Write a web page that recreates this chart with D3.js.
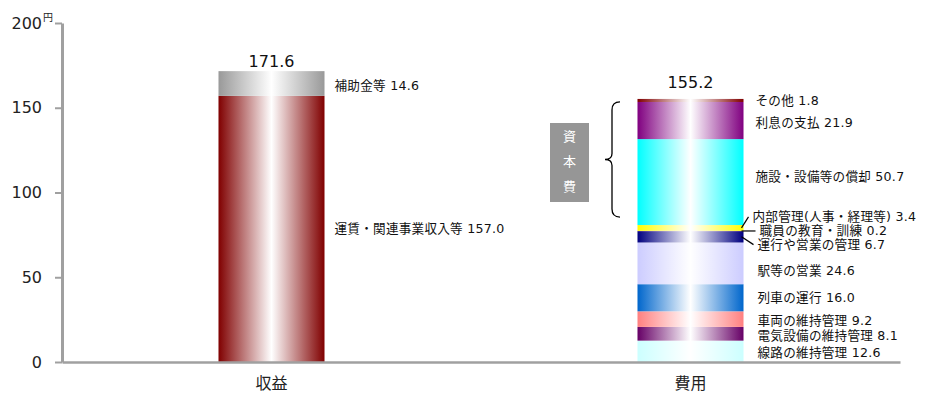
<!DOCTYPE html>
<html lang="ja">
<head>
<meta charset="utf-8">
<script src="https://cdn.jsdelivr.net/npm/d3@7"></script>
<style>
  html, body { margin: 0; padding: 0; background: #fff; }
  svg { display: block; font-family: "DejaVu Sans", "Noto Sans CJK JP", sans-serif; }
</style>
</head>
<body>
<svg id="chart" width="925" height="397"></svg>
<script>
// ---- data ----
const categories = ["収益", "費用"];

const revenueItems  = ["運賃・関連事業収入等", "補助金等"];
const revenueValues = [157.0, 14.6];

const costItems = [
  "線路の維持管理", "電気設備の維持管理", "車両の維持管理", "列車の運行",
  "駅等の営業", "運行や営業の管理", "職員の教育・訓練", "内部管理(人事・経理等)",
  "施設・設備等の償却", "利息の支払", "その他"
];
const costValues = [12.6, 8.1, 9.2, 16.0, 24.6, 6.7, 0.2, 3.4, 50.7, 21.9, 1.8];

// items grouped under the capital-cost brace
const capitalItems = ["施設・設備等の償却", "利息の支払", "その他"];

const yTicks = [0, 50, 100, 150, 200];
const yUnit = "円";
const capitalLabel = ["資", "本", "費"];

// ---- styles ----
const revenueColors = ["#800000", "#999999"];
const costColors = [
  "#ccffff", "#660066", "#ff8080", "#0066cc",
  "#ccccff", "#000080", "#993366", "#ffff00",
  "#00ffff", "#800080", "#800000"
];
// vertical label nudges (px) where labels would collide
const labelNudge = {
  "補助金等": 1.5, "線路の維持管理": 1, "電気設備の維持管理": 2, "車両の維持管理": 1,
  "駅等の営業": 7.5, "運行や営業の管理": 7.8, "職員の教育・訓練": 0,
  "内部管理(人事・経理等)": -11, "施設・設備等の償却": -6, "利息の支払": 1.5
};
const leaderItems = ["内部管理(人事・経理等)", "職員の教育・訓練", "運行や営業の管理"];
// gap between bar top and its total label
const totalGap = [4, 11];

// ---- layout ----
const svg = d3.select("#chart");
const axisColor = "#a0a0a0";

const x = d3.scaleBand()
  .domain(categories)
  .range([62, 900])
  .paddingInner(0.747)
  .paddingOuter(0.3735);

const y = d3.scaleLinear().domain([0, 200]).range([362, 23]);

// gradients: edge colour -> white centre -> edge colour
const defs = svg.append("defs");
function gradId(i, prefix) { return prefix + "-grad-" + i; }
function addGradient(id, color) {
  const g = defs.append("linearGradient")
    .attr("id", id).attr("x1", 0).attr("x2", 1).attr("y1", 0).attr("y2", 0);
  g.append("stop").attr("offset", 0).attr("stop-color", color);
  g.append("stop").attr("offset", 0.5).attr("stop-color", "#ffffff");
  g.append("stop").attr("offset", 1).attr("stop-color", color);
}
revenueColors.forEach((c, i) => addGradient(gradId(i, "rev"), c));
costColors.forEach((c, i) => addGradient(gradId(i, "cost"), c));

function stackOf(items, values) {
  let acc = 0;
  return items.map((name, i) => {
    const s = { name, value: values[i], y0: acc, y1: acc + values[i], i };
    acc += values[i];
    return s;
  });
}
const revStack = stackOf(revenueItems, revenueValues);
const costStack = stackOf(costItems, costValues);

function drawStack(stack, cat, prefix) {
  svg.append("g").selectAll("rect")
    .data(stack)
    .join("rect")
    .attr("x", x(cat))
    .attr("width", x.bandwidth())
    .attr("y", d => y(d.y1))
    .attr("height", d => y(d.y0) - y(d.y1))
    .attr("fill", d => `url(#${gradId(d.i, prefix)})`);
}
drawStack(revStack, categories[0], "rev");
drawStack(costStack, categories[1], "cost");

// ---- axes ----
const yAxis = svg.append("g")
  .attr("transform", "translate(62,0)")
  .call(d3.axisLeft(y).tickValues(yTicks).tickSize(7).tickSizeOuter(0).tickPadding(13));
yAxis.select(".domain").attr("stroke", axisColor).attr("stroke-width", 3);
yAxis.selectAll(".tick line").attr("stroke", axisColor).attr("stroke-width", 2);
yAxis.selectAll(".tick text")
  .attr("font-size", 16).attr("fill", "#222")
  .attr("font-family", "'DejaVu Sans', sans-serif");
yAxis.append("text")
  .attr("x", -19).attr("y", y(200) - 2)
  .attr("text-anchor", "start")
  .attr("font-size", 10).attr("fill", "#222")
  .attr("font-family", "'Noto Sans CJK JP', sans-serif")
  .text(yUnit);

const xAxis = svg.append("g")
  .attr("transform", `translate(0,${y(0)})`)
  .call(d3.axisBottom(x).tickSize(0).tickPadding(16).tickSizeOuter(0));
xAxis.select(".domain").attr("stroke", axisColor).attr("stroke-width", 2.5);
xAxis.selectAll(".tick text")
  .attr("font-size", 16).attr("fill", "#222")
  .attr("font-family", "'Noto Sans CJK JP', sans-serif");

// ---- totals above the bars ----
const fmt = d3.format(".1f");
[[categories[0], revenueValues], [categories[1], costValues]].forEach(([cat, vals], k) => {
  const total = d3.sum(vals);
  svg.append("text")
    .attr("x", x(cat) + x.bandwidth() / 2)
    .attr("y", y(total) - totalGap[k])
    .attr("text-anchor", "middle")
    .attr("font-size", 16).attr("fill", "#111")
    .text(fmt(total));
});

// ---- segment labels ----
function labelX(name, base) {
  if (name === "内部管理(人事・経理等)") return base - 4;
  if (name === "職員の教育・訓練") return base + 3;
  if (name === "その他" || name === "利息の支払" || name === "施設・設備等の償却") return base - 1;
  return base + 1;
}
function drawLabels(stack, cat, gap) {
  const right = x(cat) + x.bandwidth();
  stack.forEach(d => {
    const ly = y((d.y0 + d.y1) / 2) + (labelNudge[d.name] || 0);
    const lx = labelX(d.name, right + gap);
    svg.append("text")
      .attr("x", lx).attr("y", ly)
      .attr("dominant-baseline", "central")
      .attr("font-size", 12.6).attr("letter-spacing", 0.25).attr("fill", "#111")
      .text(`${d.name} ${fmt(d.value)}`);
    if (leaderItems.includes(d.name)) {
      const sy = y((d.y0 + d.y1) / 2);
      svg.append("line")
        .attr("x1", right - 2).attr("y1", sy)
        .attr("x2", lx - 4).attr("y2", ly)
        .attr("stroke", "#000").attr("stroke-width", 1.2);
    }
  });
}
drawLabels(revStack, categories[0], 9);
drawLabels(costStack, categories[1], 13);

// ---- capital-cost brace and tag ----
const capStack = costStack.filter(d => capitalItems.includes(d.name));
const braceTop = y(d3.max(capStack, d => d.y1)) + 3;
const braceBot = y(d3.min(capStack, d => d.y0)) - 8;
const braceMid = (braceTop + braceBot) / 2;
const bx = 612, tipX = 605, endX = 620;
const bracePath = d3.path();
bracePath.moveTo(endX, braceTop);
bracePath.quadraticCurveTo(bx, braceTop, bx, braceTop + 8);
bracePath.lineTo(bx, braceMid - 6);
bracePath.quadraticCurveTo(bx, braceMid, tipX, braceMid);
bracePath.quadraticCurveTo(bx, braceMid, bx, braceMid + 6);
bracePath.lineTo(bx, braceBot - 8);
bracePath.quadraticCurveTo(bx, braceBot, endX, braceBot);
svg.append("path")
  .attr("d", bracePath.toString())
  .attr("fill", "none").attr("stroke", "#000").attr("stroke-width", 1.3);

const tag = svg.append("g");
tag.append("rect")
  .attr("x", 550).attr("y", 123).attr("width", 39).attr("height", 79)
  .attr("fill", "#969696");
capitalLabel.forEach((ch, i) => {
  tag.append("text")
    .attr("x", 569.5).attr("y", 135 + i * 25)
    .attr("text-anchor", "middle").attr("dominant-baseline", "central")
    .attr("font-size", 13).attr("fill", "#fff")
    .attr("font-family", "'Noto Sans CJK JP', sans-serif")
    .text(ch);
});
</script>
</body>
</html>
